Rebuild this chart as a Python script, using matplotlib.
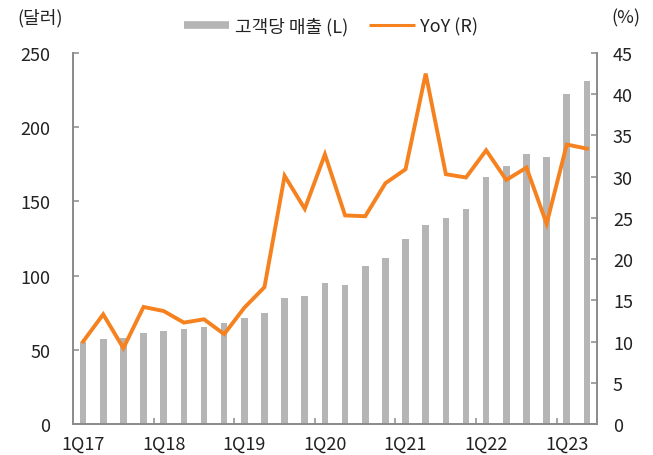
import matplotlib
matplotlib.use("Agg")
import matplotlib.pyplot as plt
from matplotlib.lines import Line2D
import numpy as np

plt.rcParams['font.family'] = ['Noto Sans CJK KR', 'DejaVu Sans']

quarters = ['1Q17', '2Q17', '3Q17', '4Q17', '1Q18', '2Q18', '3Q18', '4Q18',
            '1Q19', '2Q19', '3Q19', '4Q19', '1Q20', '2Q20', '3Q20', '4Q20',
            '1Q21', '2Q21', '3Q21', '4Q21', '1Q22', '2Q22', '3Q22', '4Q22',
            '1Q23', '2Q23']
revenue_per_customer = [55.1, 57.3, 58.0, 61.5, 62.9, 64.2, 65.6, 68.3,
                        71.6, 75.0, 85.1, 86.3, 95.2, 93.9, 106.7, 111.6,
                        124.9, 133.9, 138.8, 144.9, 166.4, 173.6, 182.2, 180.1,
                        222.6, 231.3]
yoy = [10.0, 13.3, 9.2, 14.2, 13.7, 12.3, 12.7, 10.9,
       14.1, 16.6, 30.1, 26.1, 32.7, 25.3, 25.2, 29.2,
       30.9, 42.5, 30.3, 29.9, 33.2, 29.6, 31.1, 24.3,
       33.9, 33.4]
left_ticks = [0, 50, 100, 150, 200, 250]
right_ticks = [0, 5, 10, 15, 20, 25, 30, 35, 40, 45]
label_names = ['1Q17', '1Q18', '1Q19', '1Q20', '1Q21', '1Q22', '1Q23']

bar_color = '#b5b5b5'
line_color = '#f5821f'
spine_color = '#8a8a8a'
text_color = '#222222'
fs = 13

fig = plt.figure(figsize=(6.53, 4.56), dpi=100)
ax = fig.add_axes([73/653, 31/456, 524/653, 371/456])
ax2 = ax.twinx()

x = np.arange(len(quarters))
ax.bar(x, revenue_per_customer, width=0.33, color=bar_color, zorder=2)
ax2.plot(x, yoy, color=line_color, lw=2.8, zorder=3, solid_joinstyle='miter')

ax.set_xlim(-0.5, len(quarters) - 0.5)
ax.set_ylim(0, 250)
ax2.set_ylim(0, 45)
ax.set_yticks(left_ticks)
ax2.set_yticks(right_ticks)

label_pos = [quarters.index(q) for q in label_names]
ax.set_xticks([p - 0.5 for p in label_pos[1:]])
ax.set_xticklabels([])
ax.set_xticks(label_pos, minor=True)
ax.set_xticklabels(label_names, minor=True)

ax.tick_params(axis='x', which='major', direction='in', length=4, width=1.1, color=spine_color)
ax.tick_params(axis='x', which='minor', length=0, pad=8, labelsize=fs, labelcolor=text_color)
ax.tick_params(axis='y', direction='in', length=4, width=1.1, color=spine_color,
               pad=16.5, labelsize=fs, labelcolor=text_color)
ax2.tick_params(axis='y', direction='in', length=4, width=1.1, color=spine_color,
                pad=11.5, labelsize=fs, labelcolor=text_color)

for a in (ax, ax2):
    a.spines['top'].set_visible(False)
    for s in ('left', 'right', 'bottom'):
        a.spines[s].set_color(spine_color)
        a.spines[s].set_linewidth(1.2)
ax.set_zorder(ax2.get_zorder() - 1)
ax.patch.set_visible(False)

fig.text(17/653, 1 - 18/456, '(달러)', ha='left', va='center', fontsize=fs, color=text_color)
fig.text(640/653, 1 - 18/456, '(%)', ha='right', va='center', fontsize=fs, color=text_color)

handles = [Line2D([], [], color=bar_color, lw=5.5, solid_capstyle='butt'),
           Line2D([], [], color=line_color, lw=2.2, solid_capstyle='butt')]
fig.legend(handles, ['고객당 매출 (L)', 'YoY (R)'], loc='center',
           bbox_to_anchor=(331/653, 1 - 27/456), ncol=2, frameon=False,
           fontsize=fs, handlelength=2.5, handletextpad=0.3, columnspacing=1.2,
           labelcolor=text_color)

fig.savefig('out.png', dpi=100)
